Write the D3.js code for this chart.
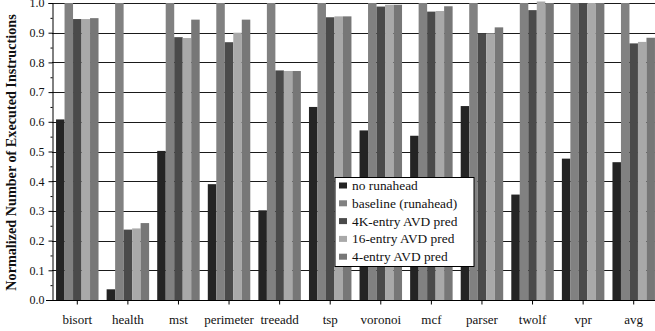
<!DOCTYPE html>
<html>
<head>
<meta charset="utf-8">
<script src="https://cdn.jsdelivr.net/npm/d3@7"></script>
<style>
  html, body { margin: 0; padding: 0; background: #fff; }
  svg { display: block; }
  text { font-family: "Liberation Serif", "Times New Roman", serif; fill: #111; }
</style>
</head>
<body>
<svg id="chart" width="655" height="331"></svg>
<script>
// Benchmarks on the x axis
const categories = ["bisort", "health", "mst", "perimeter", "treeadd", "tsp",
                    "voronoi", "mcf", "parser", "twolf", "vpr", "avg"];

// Series names (legend order == bar order inside each group)
const seriesNames = ["no runahead", "baseline (runahead)", "4K-entry AVD pred",
                     "16-entry AVD pred", "4-entry AVD pred"];

// Normalized executed instructions per benchmark
const noRunahead = [0.608, 0.036, 0.502, 0.390, 0.302, 0.650, 0.571, 0.553, 0.653, 0.355, 0.476, 0.464];
const baseline   = [1.0, 1.0, 1.0, 1.0, 1.0, 1.0, 1.0, 1.0, 1.0, 1.0, 1.0, 1.0];
const avd4K      = [0.946, 0.237, 0.885, 0.868, 0.773, 0.952, 0.988, 0.971, 0.898, 0.976, 1.0, 0.864];
const avd16      = [0.946, 0.241, 0.882, 0.900, 0.771, 0.955, 0.994, 0.973, 0.898, 1.005, 1.0, 0.869];
const avd4       = [0.949, 0.259, 0.944, 0.944, 0.771, 0.955, 0.994, 0.989, 0.918, 1.0, 1.0, 0.883];

const yTicks = [0.0, 0.1, 0.2, 0.3, 0.4, 0.5, 0.6, 0.7, 0.8, 0.9, 1.0];
const yMinorTicks = [0.05, 0.15, 0.25, 0.35, 0.45, 0.55, 0.65, 0.75, 0.85, 0.95];

const colors = ["#242424", "#818181", "#4a4a4a", "#a9a9a9", "#777777"];

const seriesValues = [noRunahead, baseline, avd4K, avd16, avd4];

const svg = d3.select("#chart");
const plot = { left: 52, right: 659, top: 3, bottom: 300 };

const x = d3.scaleBand().domain(categories).range([plot.left, plot.right]).paddingInner(0.16).paddingOuter(0.08);
const xs = d3.scaleBand().domain(seriesNames).range([0, x.bandwidth()]);
const y = d3.scaleLinear().domain([0, 1]).range([plot.bottom, plot.top]);

// horizontal gridlines behind the bars
svg.append("g")
  .selectAll("line")
  .data(yTicks.filter(d => d > 0))
  .join("line")
  .attr("x1", plot.left).attr("x2", 655)
  .attr("y1", d => Math.round(y(d)) + 0.5).attr("y2", d => Math.round(y(d)) + 0.5)
  .attr("stroke", "#1a1a1a").attr("stroke-width", 1);

// bars
const rows = categories.map((c, i) => ({ cat: c, vals: seriesValues.map(s => s[i]) }));
svg.append("g")
  .selectAll("g")
  .data(rows)
  .join("g")
  .attr("transform", d => `translate(${x(d.cat)},0)`)
  .selectAll("rect")
  .data(d => d.vals.map((v, j) => ({ v, name: seriesNames[j], j })))
  .join("rect")
  .attr("x", d => xs(d.name))
  .attr("width", xs.bandwidth())
  .attr("y", d => y(d.v))
  .attr("height", d => y(0) - y(d.v))
  .attr("fill", d => colors[d.j]);

// y axis with major and minor ticks
svg.append("g")
  .attr("transform", `translate(${plot.left + 0.5},0)`)
  .call(d3.axisLeft(y).tickValues(yTicks).tickFormat(d3.format(".1f")).tickSize(4).tickPadding(4))
  .call(g => g.select(".domain").attr("stroke", "#000"))
  .call(g => g.selectAll(".tick line").attr("stroke", "#000"))
  .call(g => g.selectAll("text").attr("font-size", 12).attr("fill", "#111"));

svg.append("g")
  .attr("transform", `translate(${plot.left + 0.5},0)`)
  .call(d3.axisLeft(y).tickValues(yMinorTicks).tickFormat("").tickSize(2))
  .call(g => g.select(".domain").remove())
  .call(g => g.selectAll(".tick line").attr("stroke", "#000"));

// x axis
svg.append("g")
  .attr("transform", `translate(0,${plot.bottom + 0.5})`)
  .call(d3.axisBottom(x).tickSize(4).tickPadding(10).tickSizeOuter(0))
  .call(g => g.select(".domain").attr("stroke", "#000").attr("d", `M${plot.left - 6},0H655`))
  .call(g => g.selectAll(".tick line").attr("stroke", "#000"))
  .call(g => g.selectAll("text").attr("font-size", 13).attr("fill", "#111"));

// y axis title
svg.append("text")
  .attr("transform", `translate(16,${(plot.top + plot.bottom) / 2 + 1}) rotate(-90)`)
  .attr("text-anchor", "middle")
  .attr("font-size", 14.2)
  .attr("font-weight", "bold")
  .text("Normalized Number of Executed Instructions");

// legend
const lg = svg.append("g").attr("transform", "translate(335,177.5)");
lg.append("rect")
  .attr("width", 139).attr("height", 89)
  .attr("fill", "#fff").attr("stroke", "#000").attr("stroke-width", 1);
const items = lg.selectAll("g.item")
  .data(seriesNames)
  .join("g")
  .attr("class", "item")
  .attr("transform", (d, i) => `translate(0,${8 + i * 17.8})`);
items.append("rect")
  .attr("x", 4).attr("y", -3).attr("width", 8).attr("height", 6)
  .attr("fill", (d, i) => colors[i]);
items.append("text")
  .attr("x", 17).attr("y", 4.5)
  .attr("font-size", 13.4)
  .text(d => d);
</script>
</body>
</html>
